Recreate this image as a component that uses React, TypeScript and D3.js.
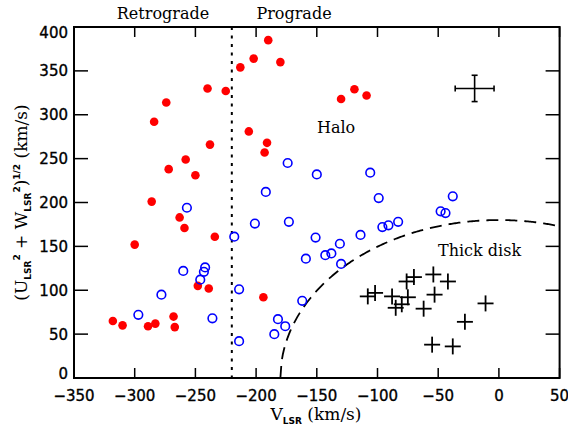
import React from "react";
import * as d3 from "d3";

// Halo stars (filled red): V_LSR and (U^2+W^2)^1/2
const redV = [-190, -202, -213, -180, -240, -225, -274, -284, -206, -191, -193, -238, -258, -272, -250, -286, -130, -119, -109, -263, -259, -234, -300, -248, -239, -194, -318, -310, -289, -283, -268, -267];
const redY = [385, 364, 354, 360, 330, 327, 314, 292, 281, 268, 257, 266, 249, 238, 231, 201, 318, 329, 322, 183, 171, 161, 152, 105, 102, 92, 65, 60, 59, 62, 70, 58];

// Open blue circles
const blueV = [-257, -192, -174, -150, -106, -99, -38, -48, -44, -218, -201, -260, -242, -243, -246, -278, -214, -297, -236, -214, -182, -185, -173, -151, -114, -96, -91, -83, -131, -159, -143, -138, -130, -162, -176];
const blueY = [194, 212, 245, 232, 234, 205, 207, 190, 188, 161, 176, 122, 126, 121, 112, 95, 101, 72, 68, 42, 67, 50, 178, 160, 163, 172, 174, 178, 153, 136, 140, 142, 130, 88, 59];

// Thick disk stars (plus signs)
const diskV = [-70, -76, -54, -42, -108, -102, -88, -75, -53, -85, -80, -62, -11, -28, -55, -38];
const diskY = [115, 110, 118, 110, 93, 97, 93, 92, 95, 80, 84, 79, 85, 64, 38, 36];

// Typical error bar
const errV = -20;
const errY = 330;
const errDV = 16;
const errDY = 15;

const xTicks = [-350, -300, -250, -200, -150, -100, -50, 0, 50];
const yTicks = [0, 50, 100, 150, 200, 250, 300, 350, 400];
const DIVIDE_V = -220;
const DISK_RADIUS = 180;

const W = 568;
const H = 425;
const L = 74, R = 559.6, T = 27, B = 378;

export default function App() {
  const x = d3.scaleLinear().domain([-350, 50]).range([L, R]);
  const y = d3.scaleLinear().domain([0, 400]).range([B, T]);

  const curvePts: [number, number][] = d3
    .range(-DISK_RADIUS, 50.5, 1)
    .map((v) => [v, Math.sqrt(Math.max(0, DISK_RADIUS * DISK_RADIUS - v * v))]);
  const line = d3
    .line<[number, number]>()
    .x((d) => x(d[0]))
    .y((d) => y(d[1]));

  const serif = "'DejaVu Serif', serif";
  const sans = "'DejaVu Sans', sans-serif";
  const cap = 3;

  return (
    <svg
      width={W}
      height={H}
      style={{ position: "absolute", left: 0, top: 0, background: "#fff" }}
    >
      <rect x={0} y={0} width={W} height={H} fill="#fff" />

      {/* dashed thick-disk boundary */}
      <path
        d={line(curvePts) || ""}
        fill="none"
        stroke="#000"
        strokeWidth={1.8}
        strokeDasharray="12,7"
      />

      {/* dotted divider */}
      <line
        x1={x(DIVIDE_V)}
        x2={x(DIVIDE_V)}
        y1={T}
        y2={B}
        stroke="#000"
        strokeWidth={2}
        strokeDasharray="3,5.5"
      />

      {/* red filled */}
      {redV.map((v, i) => (
        <circle key={"r" + i} cx={x(v)} cy={y(redY[i])} r={4.3} fill="#ff0000" />
      ))}
      {/* blue open */}
      {blueV.map((v, i) => (
        <circle
          key={"b" + i}
          cx={x(v)}
          cy={y(blueY[i])}
          r={4.3}
          fill="none"
          stroke="#0000ff"
          strokeWidth={1.6}
        />
      ))}
      {/* plus signs */}
      {diskV.map((v, i) => (
        <g key={"p" + i} stroke="#000" strokeWidth={1.8}>
          <line x1={x(v) - 8} x2={x(v) + 8} y1={y(diskY[i])} y2={y(diskY[i])} />
          <line x1={x(v)} x2={x(v)} y1={y(diskY[i]) - 8} y2={y(diskY[i]) + 8} />
        </g>
      ))}

      {/* error bar */}
      <g stroke="#000" strokeWidth={1.6}>
        <line x1={x(errV - errDV)} x2={x(errV + errDV)} y1={y(errY)} y2={y(errY)} />
        <line x1={x(errV)} x2={x(errV)} y1={y(errY + errDY)} y2={y(errY - errDY)} />
        <line x1={x(errV - errDV)} x2={x(errV - errDV)} y1={y(errY) - cap} y2={y(errY) + cap} />
        <line x1={x(errV + errDV)} x2={x(errV + errDV)} y1={y(errY) - cap} y2={y(errY) + cap} />
        <line x1={x(errV) - cap} x2={x(errV) + cap} y1={y(errY + errDY)} y2={y(errY + errDY)} />
        <line x1={x(errV) - cap} x2={x(errV) + cap} y1={y(errY - errDY)} y2={y(errY - errDY)} />
      </g>

      {/* ticks */}
      <g stroke="#000" strokeWidth={1.5}>
        {xTicks.map((t) => (
          <g key={"xt" + t}>
            <line x1={x(t)} x2={x(t)} y1={B} y2={B - 10} />
            <line x1={x(t)} x2={x(t)} y1={T} y2={T + 10} />
          </g>
        ))}
        {yTicks.map((t) => (
          <g key={"yt" + t}>
            <line x1={L} x2={L + 14} y1={y(t)} y2={y(t)} />
            <line x1={R} x2={R - 14} y1={y(t)} y2={y(t)} />
          </g>
        ))}
      </g>

      {/* frame */}
      <rect x={L} y={T} width={R - L} height={B - T} fill="none" stroke="#000" strokeWidth={2} />

      {/* tick labels */}
      <g fontFamily={sans} fontSize={15} fill="#000" stroke="#000" strokeWidth={0.35}>
        {xTicks.map((t) => (
          <text key={"xl" + t} x={x(t)} y={401} textAnchor="middle">
            {t < 0 ? "\u2212" + Math.abs(t) : String(t)}
          </text>
        ))}
        {yTicks.map((t) => (
          <text
            key={"yl" + t}
            x={68}
            y={y(t) + (t === 400 ? 6 : t === 0 ? -4 : 0)}
            dy="0.36em"
            textAnchor="end"
          >
            {t}
          </text>
        ))}
      </g>

      {/* annotations */}
      <g fontFamily={serif} fontSize={16} fill="#000">
        <text x={163} y={19} textAnchor="middle">Retrograde</text>
        <text x={294} y={19} textAnchor="middle">Prograde</text>
        <text x={317} y={133}>Halo</text>
        <text x={438} y={256}>Thick disk</text>
      </g>

      {/* x axis title */}
      <text x={316} y={420} textAnchor="middle" fontFamily={serif} fontSize={17}>
        V
        <tspan fontFamily={sans} fontWeight="bold" fontSize={9} dy={4}>LSR</tspan>
        <tspan dy={-4}> (km/s)</tspan>
      </text>

      {/* y axis title */}
      <text
        transform={`translate(27, ${(T + B) / 2}) rotate(-90)`}
        textAnchor="middle"
        fontFamily={serif}
        fontSize={17}
      >
        (U
        <tspan fontFamily={sans} fontWeight="bold" fontSize={9} dy={4}>LSR</tspan>
        <tspan fontSize={9} fontFamily={sans} fontWeight="bold" dy={-11}>2</tspan>
        <tspan dy={7}> + W</tspan>
        <tspan fontFamily={sans} fontWeight="bold" fontSize={9} dy={4}>LSR</tspan>
        <tspan fontSize={9} fontFamily={sans} fontWeight="bold" dy={-11}>2</tspan>
        <tspan dy={7}>)</tspan>
        <tspan fontSize={9} fontFamily={sans} fontWeight="bold" dy={-7}>1/2</tspan>
        <tspan dy={7}> (km/s)</tspan>
      </text>
    </svg>
  );
}
